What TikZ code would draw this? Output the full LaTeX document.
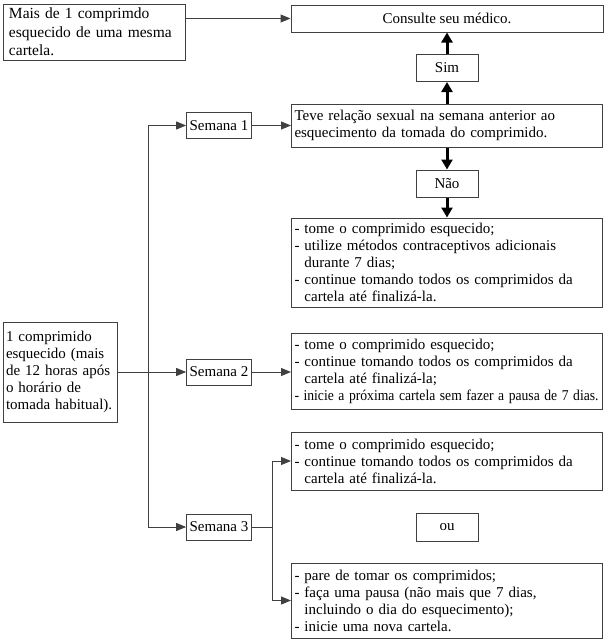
\documentclass[tikz,border=0pt]{standalone}
\usepackage{fontspec}
\setmainfont{Liberation Serif}
\usetikzlibrary{arrows.meta}
\newcommand{\rec}{\phantom{- }}

\begin{document}
\begin{tikzpicture}[x=1pt, y=-1pt, font=\fontsize{15}{17}\selectfont,
  caixa/.style={draw=black!75, line width=1pt, inner xsep=3pt, inner ysep=1pt,
    minimum height=26pt},
  larga/.style={caixa, align=left, text width=305pt},
  pequena/.style={caixa, minimum width=62pt, minimum height=27pt},
  seta/.style={draw=black!75, line width=1pt, -{Triangle[length=10pt, width=8pt]}},
  grossa/.style={line width=3pt, -{Triangle[length=10pt, width=11pt]}}]
  \useasboundingbox (0,0) rectangle (605,643);

  % caixas da esquerda
  \node[caixa, align=left, text width=170pt, inner xsep=6pt, minimum height=56pt,
    font=\fontsize{15.5}{18.5}\selectfont] (mais) at (94,32)
    {Mais de 1 comprimdo\\ esquecido de uma mesma\\ cartela.};
  \node[caixa, align=left, text width=108pt, minimum height=100pt] (comp) at (60,372)
    {1 comprimido\\ esquecido (mais\\ de 12 horas após\\ o horário de\\ tomada habitual).};
  \foreach \n/\y in {1/125.5, 2/372, 3/527}
    \node[caixa, minimum width=64pt] (semana\n) at (219,\y) {Semana \n};

  % caixas da direita
  \node[caixa, minimum width=312pt, minimum height=27pt] (consulte) at (447,18.5)
    {Consulte seu médico.};
  \node[pequena] (sim) at (447,68) {Sim};
  \node[larga, minimum height=43pt] (teve) at (447,125.5)
    {Teve relação sexual na semana anterior ao\\ esquecimento da tomada do comprimido.};
  \node[pequena] (nao) at (447,183.5) {Não};
  \node[larga, minimum height=89pt] (tome1) at (447,262.5)
    {- tome o comprimido esquecido;\\ - utilize métodos contraceptivos adicionais\\
     \rec durante 7 dias;\\ - continue tomando todos os comprimidos da\\ \rec cartela até finalizá-la.};
  \node[larga, minimum height=76pt] (tome2) at (447,371)
    {- tome o comprimido esquecido;\\ - continue tomando todos os comprimidos da\\
     \rec cartela até finalizá-la;\\
     \resizebox{304pt}{\height}{- inicie a próxima cartela sem fazer a pausa de 7 dias.}};
  \node[larga, minimum height=58pt] (tome3) at (447,461)
    {- tome o comprimido esquecido;\\ - continue tomando todos os comprimidos da\\
     \rec cartela até finalizá-la.};
  \node[pequena, minimum height=28pt] (ou) at (447,527) {ou};
  \node[larga, minimum height=75pt] (tome4) at (447,600.5)
    {- pare de tomar os comprimidos;\\ - faça uma pausa (não mais que 7 dias,\\
     \rec incluindo o dia do esquecimento);\\ - inicie uma nova cartela.};

  % ligacoes
  \coordinate (tronco) at (148,0);
  \coordinate (ramo) at (272,0);
  \draw[seta] (mais.east |- consulte.west) -- (consulte.west);
  \draw[grossa] (teve.north) -- (sim.south);
  \draw[grossa] (sim.north) -- (consulte.south);
  \draw[grossa] (teve.south) -- (nao.north);
  \draw[grossa] (nao.south) -- (tome1.north);
  \draw[seta] (semana1.east) -- (teve.west);
  \draw[seta] (tronco |- semana3.west) -- (tronco |- semana1.west) -- (semana1.west);
  \draw[seta] (tronco |- semana3.west) -- (semana3.west);
  \draw[seta] (comp.east) -- (semana2.west);
  \draw[seta] (semana2.east) -- (semana2.east -| tome2.west);
  \draw[draw=black!75, line width=1pt] (semana3.east) -- (ramo |- semana3.east);
  \draw[seta] (ramo |- tome4.west) -- (ramo |- tome3.west) -- (tome3.west);
  \draw[seta] (ramo |- tome4.west) -- (tome4.west);
\end{tikzpicture}
\end{document}
